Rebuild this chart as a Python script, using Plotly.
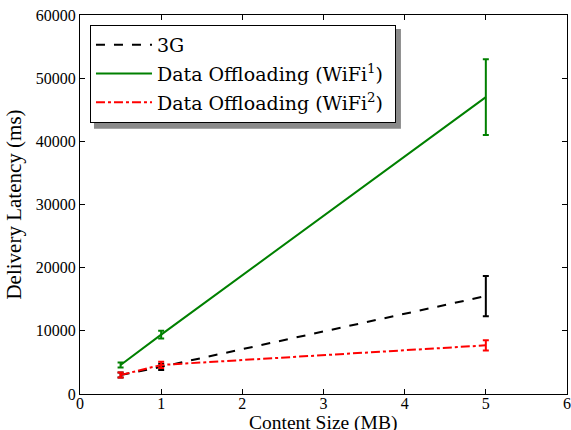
import plotly.graph_objects as go

sizes = [0.5, 1, 5]
lat_3g = [3000, 4300, 15500]
err_3g = [400, 500, 3200]
lat_wifi1 = [4600, 9400, 47000]
err_wifi1 = [400, 600, 6000]
lat_wifi2 = [3000, 4600, 7700]
err_wifi2 = [400, 500, 800]
x_ticks = [0, 1, 2, 3, 4, 5, 6]

names = ["3G", "Data Offloading (WiFi<sup>1</sup>)\u00a0", "Data Offloading (WiFi<sup>2</sup>)\u00a0"]
colors = ["black", "#008000", "red"]
dashes = ["dash", "solid", "dashdot"]

FONT = "Liberation Serif"
fig = go.Figure()
for i, (y, e) in enumerate([(lat_3g, err_3g), (lat_wifi1, err_wifi1), (lat_wifi2, err_wifi2)]):
    fig.add_trace(go.Scatter(
        x=sizes, y=y, mode="lines", name=names[i], legendgroup=str(i),
        line=dict(color=colors[i], width=2, dash=dashes[i]),
        error_y=dict(type="data", array=e, visible=True, color=colors[i], thickness=2, width=3),
    ))

# legend drop shadow
fig.add_shape(type="rect", xref="paper", yref="paper",
              x0=0.0287, x1=0.659, y0=0.700, y1=0.9631,
              fillcolor="#8a8a8a", line=dict(width=0), layer="above")

# x axis title placed as an annotation so it sits close to the tick labels
fig.add_annotation(text="Content Size (MB)", xref="paper", yref="paper",
                   x=0.498, y=-0.076, xanchor="center", yanchor="middle",
                   showarrow=False, font=dict(family=FONT, size=19.5))

fig.update_layout(
    width=571, height=430,
    margin=dict(l=80, r=4, t=15, b=36),
    paper_bgcolor="white", plot_bgcolor="white",
    font=dict(family=FONT, color="black", size=16),
    showlegend=True,
    legend=dict(x=0.0205, y=0.9736, xanchor="left", yanchor="top",
                bgcolor="white", bordercolor="black", borderwidth=1,
                font=dict(family="DejaVu Serif", size=19), tracegroupgap=1, itemwidth=56),
    xaxis=dict(range=[0, 6.0001], tickvals=x_ticks, showgrid=False, zeroline=False, tickformat="d",
               showline=True, linecolor="black", linewidth=1, mirror="allticks",
               ticks="inside", ticklen=5, tickcolor="black", ticklabeloverflow="allow",
               automargin=False, ticklabelstandoff=-5),
    yaxis=dict(range=[0, 60000], dtick=10000, showgrid=False, zeroline=False, tickformat="d",
               showline=True, linecolor="black", linewidth=1, mirror="allticks",
               ticks="inside", ticklen=5, tickcolor="black", ticklabeloverflow="allow",
               automargin=False,
               title=dict(text="Delivery Latency (ms)", font=dict(size=21), standoff=8)),
)
# remove the browser's default page margin so the figure sits at the window's corner
fig.write_html("out.html", config={"displayModeBar": False},
               post_script="document.body.style.margin='0';")
